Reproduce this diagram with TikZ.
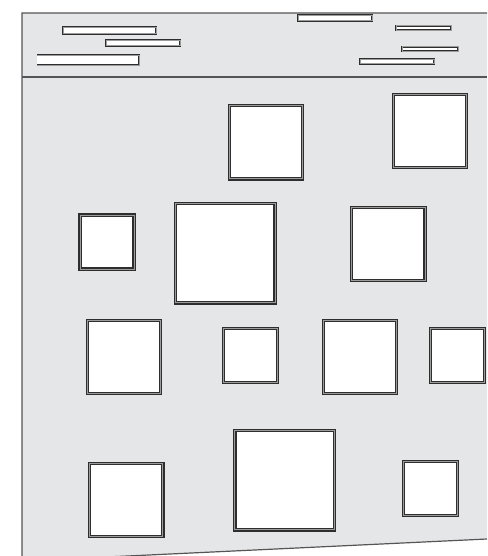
\documentclass[tikz,border=0pt]{standalone}
\usepackage{xcolor}
\usetikzlibrary{positioning}
\definecolor{wallbg}{HTML}{E5E6E8}
\definecolor{frameink}{HTML}{2E2E2E}
\definecolor{framemid}{HTML}{9C9C9C}
\definecolor{edgeink}{HTML}{555555}

\begin{document}
\begin{tikzpicture}[x=1pt, y=-1pt,
  pane/.style={draw=frameink, double=framemid, double distance=1pt, line width=1.1pt, fill=white, inner sep=0pt, minimum width=#1, minimum height=#1},
  slot/.style={draw=frameink, double=framemid, double distance=0.7pt, line width=0.8pt, fill=white, inner sep=0pt},
  walledge/.style={draw=edgeink, line width=1.2pt}
]
  \useasboundingbox (0,0) rectangle (487,556);
  \clip (0,0) rectangle (487,556);

  % wall outline
  \coordinate (wallNW) at (22,13);
  \coordinate (wallNE) at (487,13);
  \coordinate (wallSE) at (487,539);
  \coordinate (wallSW) at (22,561);
  \coordinate (bandW) at (22,77);
  \coordinate (bandE) at (487,77);
  \fill[wallbg] (wallNW) -- (wallNE) -- (wallSE) -- (wallSW) -- cycle;
  \draw[walledge] (wallNE) -- (wallNW) -- (wallSW) -- (wallSE);
  \draw[walledge] (bandW) -- (bandE);

  % header slots
  \node[slot, minimum width=92.7pt, minimum height=6.7pt] (slotA) at (109.5,30.5) {};
  \node[slot, minimum width=73.7pt, minimum height=5.7pt] (slotB) at (143,43) {};
  \node[slot, minimum width=73.7pt, minimum height=5.7pt] (slotC) at (335,18) {};
  \node[slot, minimum width=54.7pt, minimum height=4.3pt] (slotD) at (423.5,28) {};
  \node[slot, minimum width=55.7pt, minimum height=4.3pt] (slotE) at (430,49) {};
  \node[slot, minimum width=73.7pt, minimum height=4.7pt] (slotF) at (397,61.5) {};
  \coordinate (slotGw) at (37,55);
  \coordinate (slotGe) at (139,65);
  \fill[white] (slotGw) rectangle (slotGe);
  \draw[draw=frameink, double=framemid, double distance=0.6pt, line width=0.6pt]
    (slotGw) -- (slotGe |- slotGw) -- (slotGe) -- (slotGw |- slotGe);

  % windows
  \node[pane=73.3pt] (win1) at (265.8,142.3) {};
  \node[pane=73.5pt] (win2) at (430,131) {};
  \node[pane=54pt] (win3) at (107,242) {};
  \node[pane=99.5pt] (win4) at (225.3,253.2) {};
  \node[pane=73.5pt] (win5) at (388.3,244) {};
  \node[pane=73.3pt] (win6) at (124.2,357.2) {};
  \node[pane=54pt] (win7) at (250.7,355.3) {};
  \node[pane=73.3pt] (win8) at (360,357.2) {};
  \node[pane=54pt] (win9) at (457.2,355.3) {};
  \node[pane=73.3pt] (win10) at (126.3,499.8) {};
  \node[pane=99.5pt] (win11) at (284.7,480.2) {};
  \node[pane=54pt] (win12) at (430.7,488.8) {};
\end{tikzpicture}
\end{document}
